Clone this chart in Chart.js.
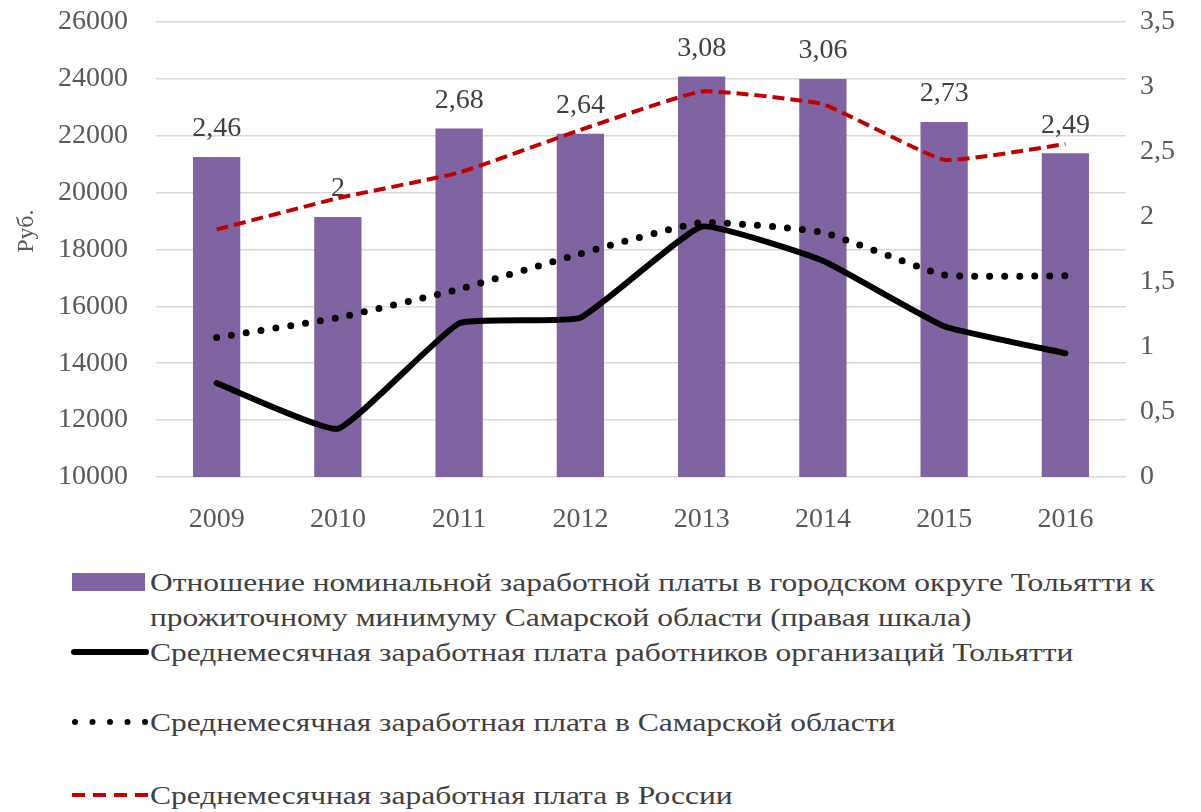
<!DOCTYPE html>
<html>
<head>
<meta charset="utf-8">
<title>Заработная плата Тольятти</title>
<script src="https://cdn.jsdelivr.net/npm/chart.js@4.4.1/dist/chart.umd.min.js"></script>
<style>
    html, body { margin: 0; padding: 0; background: #fff; }
    #wrap { position: relative; width: 1201px; height: 812px; overflow: hidden; }
    #chartBox { position: absolute; left: 0; top: -23px; width: 1201px; height: 568px; }
    .legend-item { position: absolute; left: 0; font-family: 'Liberation Serif'; font-size: 26px;
        color: #404040; line-height: 35px; white-space: nowrap; }
    .legend-item svg { position: absolute; }
    .legend-item .txt { position: absolute; left: 150px; transform: scaleX(1.21); transform-origin: left center; }
</style>
</head>
<body>
<div id="wrap">
    <div id="chartBox"><canvas id="wageChart" width="1201" height="568"></canvas></div>

    <div class="legend-item" style="top:565px">
        <svg width="80" height="30" style="left:70px;top:6px"><rect x="2" y="2" width="73" height="18" fill="#8064A2"/></svg>
        <div class="txt">Отношение номинальной заработной платы в городском округе Тольятти к<br>прожиточному минимуму Самарской области (правая шкала)</div>
    </div>
    <div class="legend-item" style="top:635px">
        <svg width="84" height="30" style="left:68px;top:2px"><line x1="6" y1="15" x2="78" y2="15" stroke="#000" stroke-width="6" stroke-linecap="round"/></svg>
        <div class="txt">Среднемесячная заработная плата работников организаций Тольятти</div>
    </div>
    <div class="legend-item" style="top:705px">
        <svg width="84" height="30" style="left:68px;top:2px"><line x1="7" y1="15" x2="78" y2="15" stroke="#000" stroke-width="6" stroke-linecap="round" stroke-dasharray="0 17.5"/></svg>
        <div class="txt">Среднемесячная заработная плата в Самарской области</div>
    </div>
    <div class="legend-item" style="top:778px">
        <svg width="84" height="30" style="left:68px;top:2px"><line x1="4" y1="15" x2="80" y2="15" stroke="#C00000" stroke-width="4" stroke-dasharray="13 8"/></svg>
        <div class="txt">Среднемесячная заработная плата в России</div>
    </div>
</div>

<script>
// Data
const years = ['2009', '2010', '2011', '2012', '2013', '2014', '2015', '2016'];
const ratioToMinimum = [2.46, 2, 2.68, 2.64, 3.08, 3.06, 2.73, 2.49];   // right axis
const wageTolyatti = [13300, 11700, 15400, 15600, 18800, 17600, 15300, 14350];
const wageSamara = [14900, 15600, 16600, 17850, 18950, 18600, 17100, 17070];
const wageRussia = [18700, 19800, 20700, 22200, 23550, 23100, 21150, 21700];

const seriesNames = [
    'Отношение номинальной заработной платы в городском округе Тольятти к прожиточному минимуму Самарской области (правая шкала)',
    'Среднемесячная заработная плата работников организаций Тольятти',
    'Среднемесячная заработная плата в Самарской области',
    'Среднемесячная заработная плата в России'
];

const SERIF = 'Liberation Serif';

function commaNum(v) {
    return String(v).replace('.', ',');
}

// Value labels over the bars, drawn right after the bars so the lines go on top
const barLabels = {
    id: 'barLabels',
    afterDatasetDraw(chart, args) {
        if (args.index !== 0) return;
        const ctx = chart.ctx;
        ctx.save();
        ctx.font = "28px 'Liberation Serif'";
        ctx.fillStyle = '#404040';
        ctx.textAlign = 'center';
        ctx.textBaseline = 'bottom';
        args.meta.data.forEach((bar, i) => {
            ctx.fillText(commaNum(ratioToMinimum[i]), bar.x, bar.y - 14);
        });
        ctx.restore();
    }
};

// Left axis caption, sits a bit above the middle of the plot like in Excel
const axisCaption = {
    id: 'axisCaption',
    afterDraw(chart) {
        const area = chart.chartArea;
        const ctx = chart.ctx;
        ctx.save();
        ctx.translate(27, area.top + area.height * 0.46);
        ctx.rotate(-Math.PI / 2);
        ctx.font = "24px 'Liberation Serif'";
        ctx.fillStyle = '#595959';
        ctx.textAlign = 'center';
        ctx.textBaseline = 'middle';
        ctx.fillText('Руб.', 0, 0);
        ctx.restore();
    }
};

const ctx = document.getElementById('wageChart').getContext('2d');
new Chart(ctx, {
    data: {
        labels: years,
        datasets: [{
            type: 'bar',
            label: seriesNames[0],
            data: ratioToMinimum,
            yAxisID: 'yRight',
            backgroundColor: '#8064A2',
            categoryPercentage: 1,
            barPercentage: 0.39,
            order: 4
        }, {
            type: 'line',
            label: seriesNames[1],
            data: wageTolyatti,
            yAxisID: 'yLeft',
            borderColor: '#000000',
            borderWidth: 6,
            pointRadius: 0,
            tension: 0.12,
            borderCapStyle: 'round',
            borderJoinStyle: 'round',
            order: 1
        }, {
            type: 'line',
            label: seriesNames[2],
            data: wageSamara,
            yAxisID: 'yLeft',
            borderColor: '#000000',
            borderWidth: 7,
            borderDash: [0, 15],
            borderCapStyle: 'round',
            pointRadius: 0,
            tension: 0.12,
            order: 2
        }, {
            type: 'line',
            label: seriesNames[3],
            data: wageRussia,
            yAxisID: 'yLeft',
            borderColor: '#C00000',
            borderWidth: 4,
            borderDash: [12, 6],
            pointRadius: 0,
            tension: 0.12,
            order: 3
        }]
    },
    options: {
        responsive: false,
        animation: false,
        layout: { padding: 0 },
        plugins: {
            legend: { display: false },
            tooltip: { enabled: false }
        },
        scales: {
            x: {
                grid: { display: false, drawTicks: false },
                border: { display: false },
                ticks: { color: '#595959', font: { family: SERIF, size: 28 }, padding: 26 },
                afterFit(scale) { scale.height = 68; }
            },
            yLeft: {
                position: 'left',
                min: 10000,
                max: 26000,
                ticks: { stepSize: 2000, color: '#595959', font: { family: SERIF, size: 28 }, padding: 28,
                    callback: v => String(v) },
                grid: { color: '#d9d9d9', lineWidth: 1.5, drawTicks: false },
                border: { display: false },
                afterFit(scale) { scale.width = 156; }
            },
            yRight: {
                position: 'right',
                min: 0,
                max: 3.5,
                ticks: { stepSize: 0.5, color: '#595959', font: { family: SERIF, size: 28 }, padding: 14,
                    callback: v => commaNum(v) },
                grid: { display: false, drawTicks: false },
                border: { display: false },
                afterFit(scale) { scale.width = 75; }
            }
        }
    },
    plugins: [barLabels, axisCaption]
});
</script>
</body>
</html>
